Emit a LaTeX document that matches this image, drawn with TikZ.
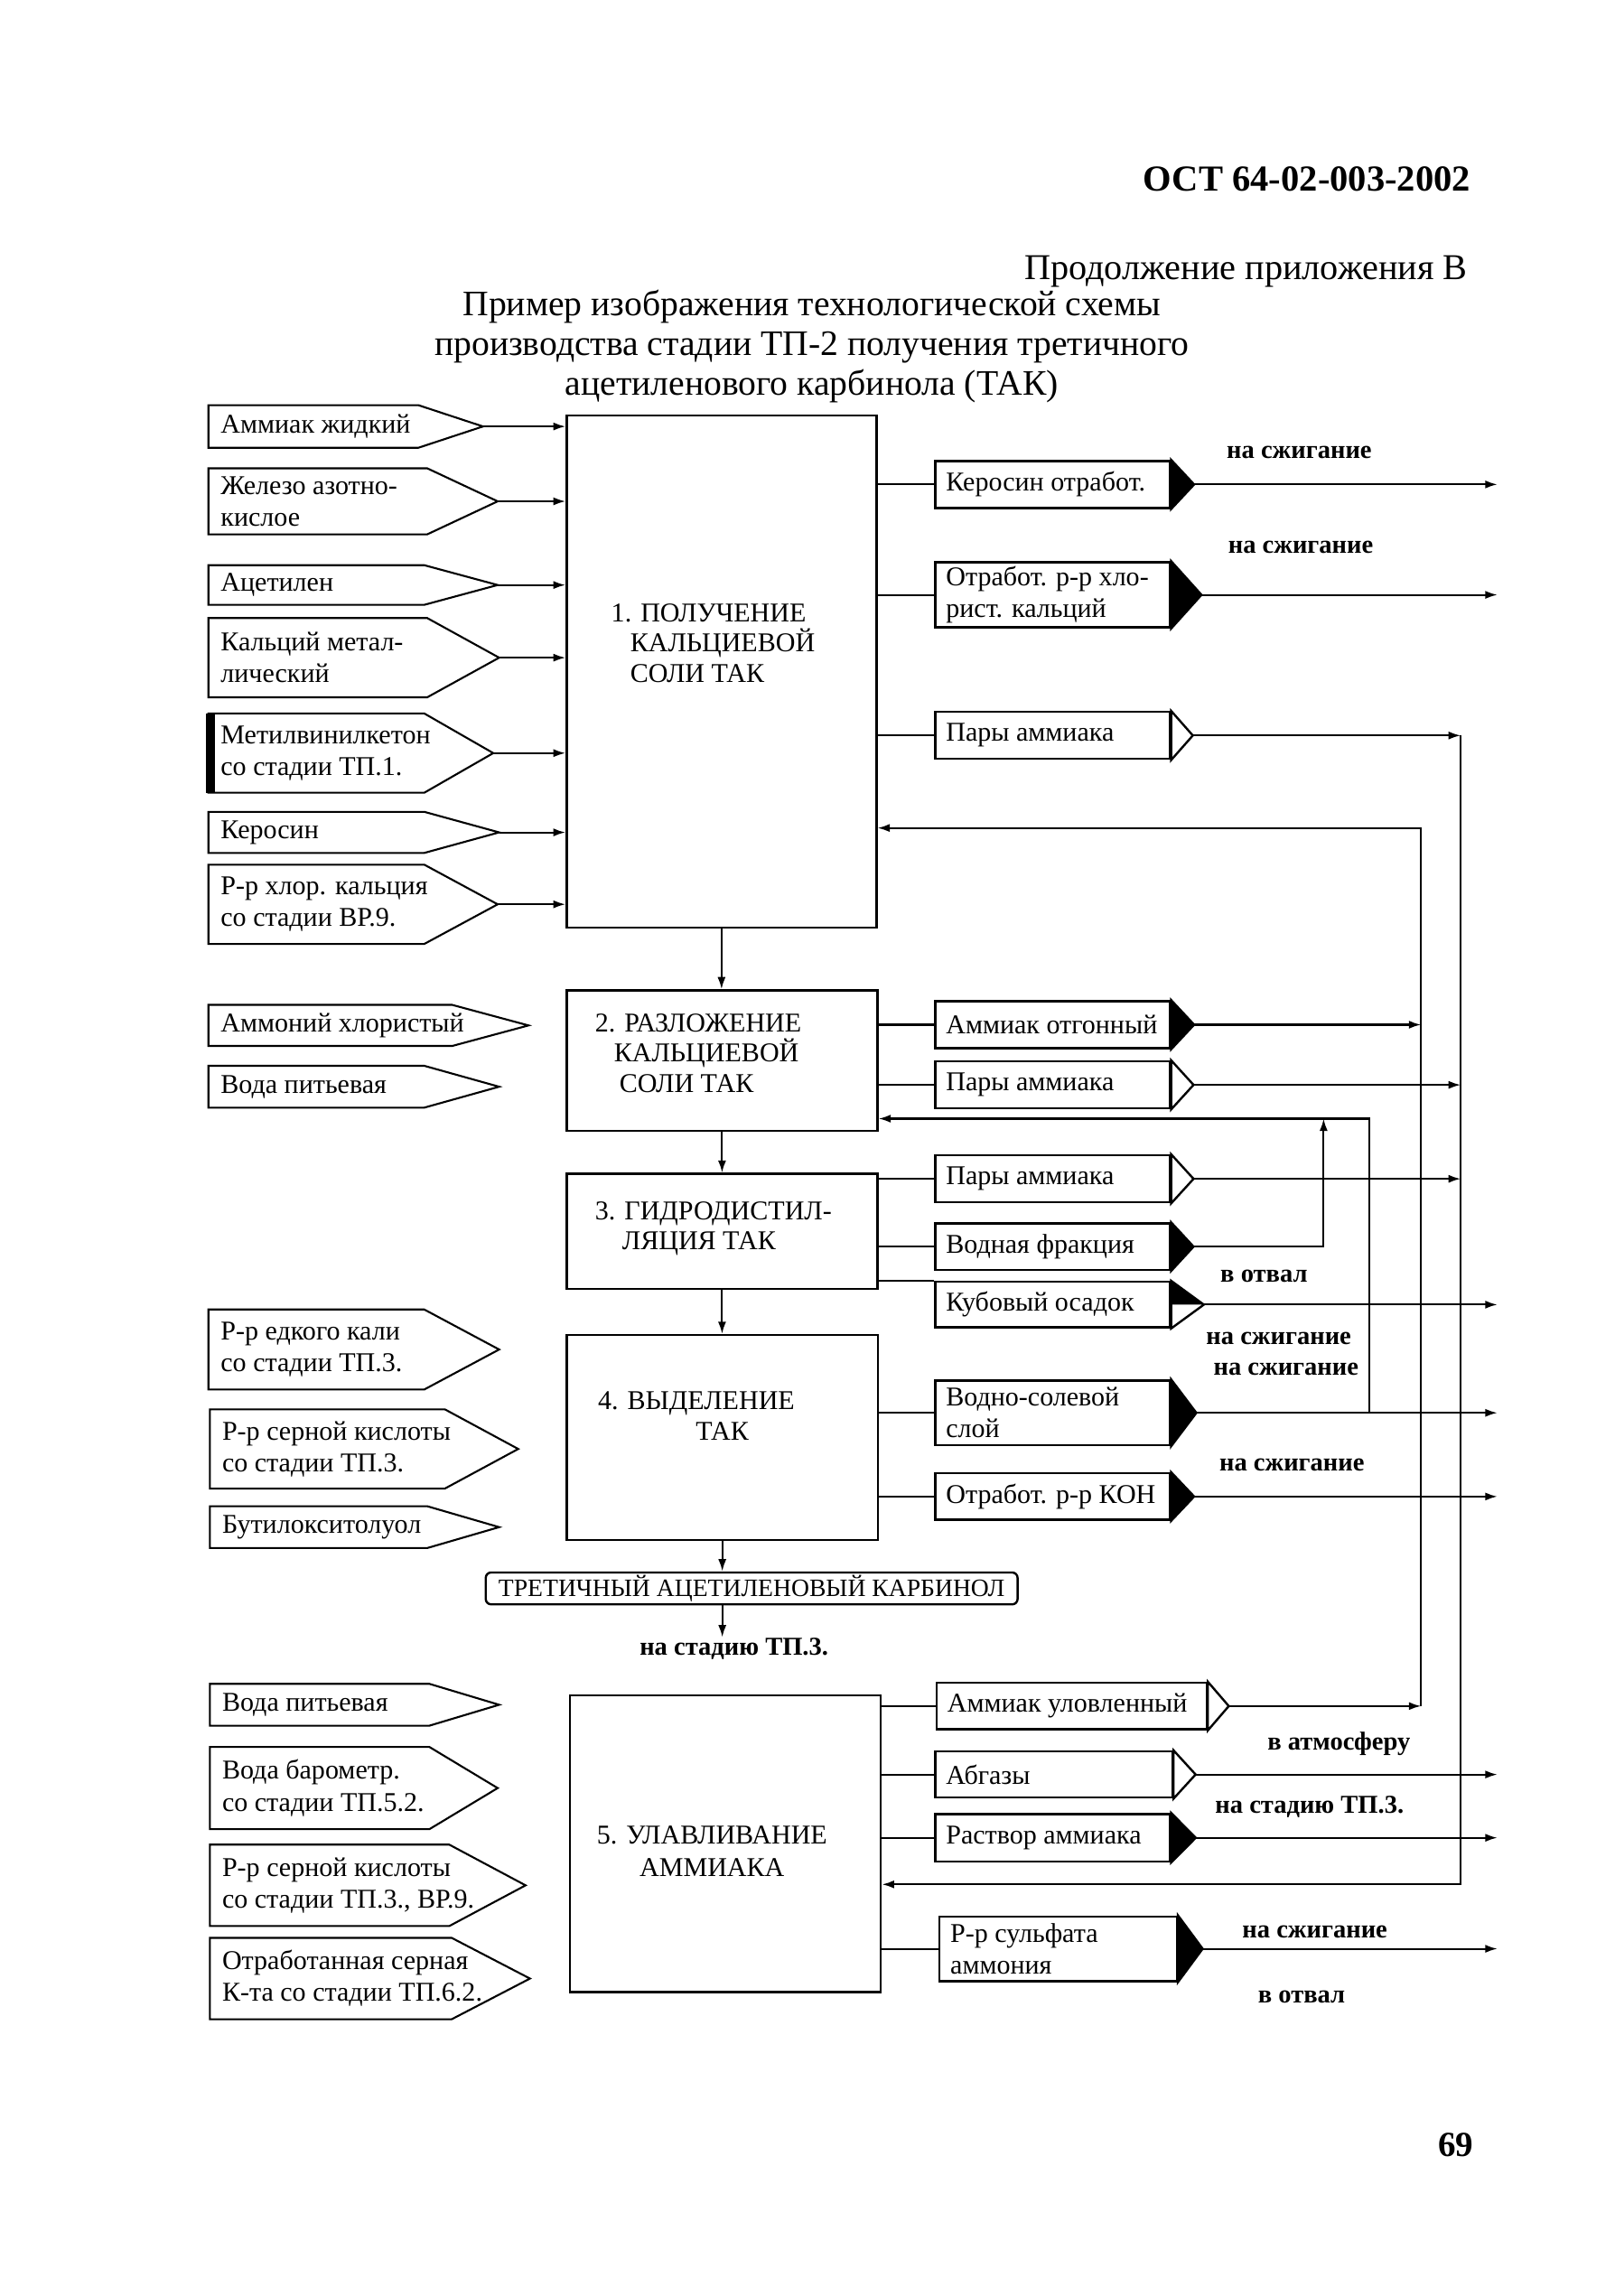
\documentclass[tikz,border=0pt]{standalone}
\usepackage{fontspec}
\setmainfont{Liberation Serif}
\usetikzlibrary{arrows.meta,fit}

% feed arrow box: name, left, top, bottom, shoulder, tip, text
\newcommand{\feedin}[7]{%
  \coordinate (#1-nw) at (#2,#3);
  \coordinate (#1-sw) at (#2,#4);
  \coordinate (#1-tip) at (#6,{(#3+#4)/2});
  \draw[feedbox] (#1-nw) -- (#5,#3) -- (#1-tip) -- (#5,#4) -- (#1-sw) -- cycle;
  \node[feedtext] (#1) at (#2+8,{(#3+#4)/2}) {#7};
}
% product box with pointer: name, left, top, bottom, right, tip, fill, text
\newcommand{\feedout}[8]{%
  \node[outbox, fit={(#2,#3) (#5,#4)}] (#1) {};
  \coordinate (#1-tip) at (#6,{(#3+#4)/2});
  \draw[tri, fill=#7] (#1.north east) -- (#1-tip) -- (#1.south east) -- cycle;
  \node[feedtext] (#1-txt) at (#2+7,{(#3+#4)/2}) {#8};
}

\begin{document}
\begin{tikzpicture}[
    x=0.541pt, y=-0.541pt,
    % general settings
    font=\fontsize{10}{11.7}\selectfont,
    % nodes
    stage/.style={rectangle, draw=black, line width=0.8pt, inner sep=0pt},
    stagetext/.style={anchor=west, align=left, inner sep=0pt, font=\fontsize{10}{11.2}\selectfont},
    feedbox/.style={draw=black, line width=0.7pt, line join=miter},
    feedtext/.style={anchor=west, align=left, inner sep=0pt},
    outbox/.style={rectangle, draw=black, line width=0.8pt, inner sep=0pt},
    tri/.style={draw=black, line width=0.8pt, line join=miter},
    product/.style={rectangle, rounded corners=2pt, draw=black, line width=0.8pt,
                    minimum width=196pt, minimum height=10pt, inner sep=1pt,
                    font=\fontsize{9.2}{10}\selectfont},
    dest/.style={inner sep=0pt, font=\bfseries\fontsize{9.5}{11}\selectfont},
    % arrows
    flow/.style={black, line width=0.7pt, -{Latex[length=4.5pt,width=3pt]}},
    link/.style={black, line width=0.7pt}
  ]

  \useasboundingbox (0,0) rectangle (1100,1564);

  % page heading
  \node (ost)   [anchor=east, inner sep=0pt, font=\bfseries\fontsize{13.5}{15}\selectfont]
                at (1002,122) {ОСТ 64-02-003-2002};
  \node (cont)  [anchor=east, inner sep=0pt, font=\fontsize{13.4}{16}\selectfont]
                at (1000,185) {Продолжение приложения В};
  \node (title) [align=center, inner sep=0pt, font=\fontsize{13.2}{14.6}\selectfont]
                at (553,236) {Пример изображения технологической схемы\\
                              производства стадии ТП-2 получения третичного\\
                              ацетиленового карбинола (ТАК)};
  \node (page)  [anchor=east, inner sep=0pt, font=\bfseries\fontsize{13}{15}\selectfont]
                at (1004,1461) {69};

  % stages
  \node (s1) [stage, fit={(386,283) (597,632)}] {};
  \node (s1-txt) [stagetext] at (416,438) {1. ПОЛУЧЕНИЕ\\
                                          \hspace*{7pt}КАЛЬЦИЕВОЙ\\
                                          \hspace*{7pt}СОЛИ ТАК};
  \node (s2) [stage, fit={(386,674.6) (597.7,770.2)}] {};
  \node (s2-txt) [stagetext] at (405,717.5) {2. РАЗЛОЖЕНИЕ\\
                                            \hspace*{7pt}КАЛЬЦИЕВОЙ\\
                                            \hspace*{9pt}СОЛИ ТАК};
  \node (s3) [stage, fit={(386,799.6) (597.7,877.8)}] {};
  \node (s3-txt) [stagetext] at (405,837) {3. ГИДРОДИСТИЛ-\\
                                          \hspace*{10pt}ЛЯЦИЯ ТАК};
  \node (s4) [stage, fit={(386,909.4) (598,1048.9)}] {};
  \node (s4-txt) [stagetext] at (407,964.5) {4. ВЫДЕЛЕНИЕ\\
                                            \hspace*{36pt}ТАК};
  \node (s5) [stage, fit={(388.3,1155) (600,1357)}] {};
  \node (s5-txt) [align=center, inner sep=0pt] at (485,1261) {5. УЛАВЛИВАНИЕ\\
                                                              АММИАКА};

  \node (tak) [product] at (512,1082) {ТРЕТИЧНЫЙ АЦЕТИЛЕНОВЫЙ КАРБИНОЛ};
  \node (tak-to) [dest] at (500,1123) {на стадию ТП.3.};

  % feeds
  \feedin{a1}{142}{276}{305}{285}{329}{Аммиак жидкий}
  \feedin{a2}{142}{319}{364}{291}{339}{Железо азотно-\\кислое}
  \feedin{a3}{142}{385}{412}{289}{339}{Ацетилен}
  \feedin{a4}{142}{421}{475}{291}{340}{Кальций метал-\\лический}
  \feedin{a5}{142}{486}{540}{289}{336}{Метилвинилкетон\\со стадии ТП.1.}
  \fill ([xshift=-1pt]a5-nw) rectangle ([xshift=2.5pt]a5-sw);
  \feedin{a6}{142}{553}{581}{289}{340}{Керосин}
  \feedin{a7}{142}{589}{643}{289}{339}{Р-р хлор. кальция\\со стадии ВР.9.}

  \feedin{b1}{142}{684.5}{712.5}{308}{360}{Аммоний хлористый}
  \feedin{b2}{142}{726}{754.5}{289}{340}{Вода питьевая}

  \feedin{d1}{142}{892}{946.5}{289}{340}{Р-р едкого кали\\со стадии ТП.3.}
  \feedin{d2}{143}{960}{1014}{303}{353}{Р-р серной кислоты\\со стадии ТП.3.}
  \feedin{d3}{143}{1026}{1054.5}{291}{340}{Бутилокситолуол}

  \feedin{e1}{143}{1147}{1175.5}{292.5}{340}{Вода питьевая}
  \feedin{e2}{143}{1190}{1246}{292.5}{339}{Вода барометр.\\со стадии ТП.5.2.}
  \feedin{e3}{143}{1256.5}{1312}{306}{358}{Р-р серной кислоты\\со стадии ТП.3., ВР.9.}
  \feedin{e4}{143}{1320}{1375.5}{307.6}{361}{Отработанная серная\\К-та со стадии ТП.6.2.}

  % products
  \feedout{o1}{637}{314}{346}{797}{813.4}{black}{Керосин отработ.}
  \feedout{o2}{637}{383}{427.4}{797}{818.4}{black}{Отработ. р-р хло-\\рист. кальций}
  \feedout{o3}{637}{485}{517}{797}{812.5}{white}{Пары аммиака}

  \feedout{p1}{637}{682}{714}{797}{813.4}{black}{Аммиак отгонный}
  \feedout{p2}{637}{723}{755}{797}{813}{white}{Пары аммиака}

  \feedout{q1}{637}{787}{819}{797}{813}{white}{Пары аммиака}
  \feedout{q2}{637}{833.4}{865}{797}{813}{black}{Водная фракция}
  \feedout{q3}{637}{873.2}{904.2}{797}{820}{white}{Кубовый осадок}
  \fill (q3.north east) -- (q3-tip) -- (q3.east) -- cycle;

  \feedout{r1}{637}{940.4}{984.4}{797}{814.9}{black}{Водно-солевой\\слой}
  \feedout{r2}{637}{1003.6}{1035.2}{797}{813.4}{black}{Отработ. р-р КОН}

  \feedout{u1}{638}{1146.3}{1178}{822}{837}{white}{Аммиак уловленный}
  \feedout{u2}{637}{1193}{1224.5}{798.6}{814.4}{white}{Абгазы}
  \feedout{u3}{637}{1235.7}{1268}{797}{814.5}{black}{Раствор аммиака}
  \feedout{u4}{640}{1305.4}{1349.5}{801.6}{819.2}{black}{Р-р сульфата\\аммония}

  % destinations
  \node (d-o1)  [dest] at (885,308)    {на сжигание};
  \node (d-o2)  [dest] at (886,373)    {на сжигание};
  \node (d-q3)  [dest] at (861,869)    {в отвал};
  \node (d-r1a) [dest] at (871,911.6)  {на сжигание};
  \node (d-r1b) [dest] at (876,932.8)  {на сжигание};
  \node (d-r2)  [dest] at (880,997.6)  {на сжигание};
  \node (d-u2)  [dest] at (912,1188)   {в атмосферу};
  \node (d-u3)  [dest] at (892,1230.6) {на стадию ТП.3.};
  \node (d-u4a) [dest] at (895.6,1316) {на сжигание};
  \node (d-u4b) [dest] at (886.6,1360) {в отвал};

  \coordinate (rim)  at (1020,0);       % right ends of outlet arrows
  \coordinate (nh3)  at (968,564);      % ammonia return to stage 1
  \coordinate (vap)  at (995,1283.6);   % vapours to stage 5
  \coordinate (back) at (932.5,762);    % return to stage 2
  \coordinate (aq)   at (901.6,762);

  % feeds into stage 1
  \draw[flow] (a1-tip) -- (a1-tip -| s1.west);
  \draw[flow] (a2-tip) -- (a2-tip -| s1.west);
  \draw[flow] (a3-tip) -- (a3-tip -| s1.west);
  \draw[flow] (a4-tip) -- (a4-tip -| s1.west);
  \draw[flow] (a5-tip) -- (a5-tip -| s1.west);
  \draw[flow] (a6-tip) -- (a6-tip -| s1.west);
  \draw[flow] (a7-tip) -- (a7-tip -| s1.west);

  % stage to stage
  \draw[flow] (s1.south) -- (s1.south |- s2.north);
  \draw[flow] (s2.south) -- (s2.south |- s3.north);
  \draw[flow] (s3.south) -- (s3.south |- s4.north);
  \draw[flow] (s4.south) -- (s4.south |- tak.north);
  \draw[flow] (s4.south |- tak.south) -- (s4.south |- tak-to.north);

  % stages to products
  \draw[link] (o1.west -| s1.east) -- (o1.west);
  \draw[link] (o2.west -| s1.east) -- (o2.west);
  \draw[link] (o3.west -| s1.east) -- (o3.west);
  \draw[link] (p1.west -| s2.east) -- (p1.west);
  \draw[link] (p2.west -| s2.east) -- (p2.west);
  \draw[link] (q1.west -| s3.east) -- (q1.west);
  \draw[link] (q2.west -| s3.east) -- (q2.west);
  \draw[link] (s3.east |- q3.north) -- (q3.north west);
  \draw[link] (r1.west -| s4.east) -- (r1.west);
  \draw[link] (r2.west -| s4.east) -- (r2.west);
  \draw[link] (u1.west -| s5.east) -- (u1.west);
  \draw[link] (u2.west -| s5.east) -- (u2.west);
  \draw[link] (u3.west -| s5.east) -- (u3.west);
  \draw[link] (u4.west -| s5.east) -- (u4.west);

  % outlets
  \draw[flow] (o1-tip) -- (o1-tip -| rim);
  \draw[flow] (o2-tip) -- (o2-tip -| rim);
  \draw[flow] (q3-tip) -- (q3-tip -| rim);
  \draw[flow] (r1-tip) -- (r1-tip -| rim);
  \draw[flow] (r2-tip) -- (r2-tip -| rim);
  \draw[flow] (u2-tip) -- (u2-tip -| rim);
  \draw[flow] (u3-tip) -- (u3-tip -| rim);
  \draw[flow] (u4-tip) -- (u4-tip -| rim);

  % ammonia vapours to stage 5
  \draw[flow] (o3-tip) -- (o3-tip -| vap);
  \draw[flow] (p2-tip) -- (p2-tip -| vap);
  \draw[flow] (q1-tip) -- (q1-tip -| vap);
  \draw[flow] (o3-tip -| vap) -- (vap) -- (vap -| s5.east);

  % ammonia back to stage 1
  \draw[flow] (p1-tip) -- (p1-tip -| nh3);
  \draw[flow] (u1-tip) -- (u1-tip -| nh3);
  \draw[flow] (u1-tip -| nh3) -- (nh3) -- (nh3 -| s1.east);

  % returns to stage 2
  \draw[flow] (r1-tip -| back) -- (back) -- (back -| s2.east);
  \draw[flow] (q2-tip) -| (aq);
\end{tikzpicture}
\end{document}
